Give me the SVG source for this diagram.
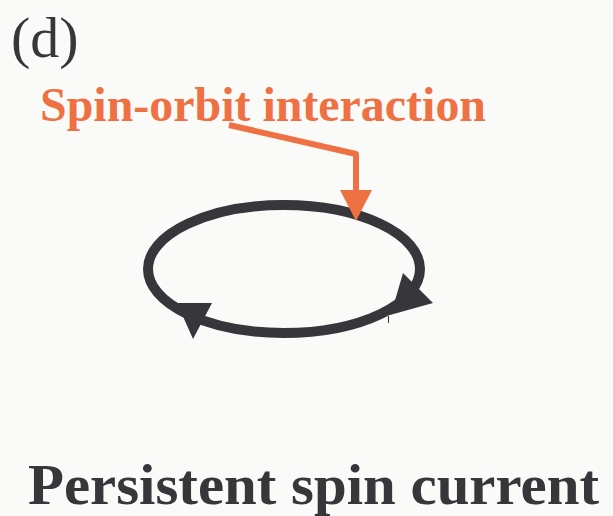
<svg xmlns="http://www.w3.org/2000/svg" width="613" height="516" viewBox="0 0 613 516">
<style>
.dark{fill:#37363b}
.orange{fill:#ef7143}
text{font-family:"Liberation Serif","Times New Roman",serif}
</style>
<rect width="613" height="516" fill="#fafaf8"/>
<g id="label-d"><text x="11" y="57" font-size="58" class="dark">(d)</text></g>
<g id="loop">
<ellipse cx="284" cy="269" rx="136" ry="64" fill="none" stroke="#37363b" stroke-width="10"/>
<polygon class="dark" points="177,303 212,303 193,339"/>
<polygon class="dark" points="403,273 433,303 390,315 396,297"/>
<line x1="388.5" y1="316" x2="388.5" y2="323" stroke="#37363b" stroke-width="1"/>
</g>
<g id="soi-label"><text x="40" y="121" font-size="48" font-weight="bold" class="orange" textLength="446" lengthAdjust="spacingAndGlyphs">Spin-orbit interaction</text></g>
<g id="connectors">
<polyline points="229,125 356,154 356,192" fill="none" stroke="#ef7143" stroke-width="6" stroke-linejoin="round"/>
<polygon class="orange" points="340,190 372,190 356,221"/>
</g>
<g id="title"><text x="28" y="504" font-size="58" font-weight="bold" class="dark" textLength="571" lengthAdjust="spacingAndGlyphs">Persistent spin current</text></g>
</svg>
